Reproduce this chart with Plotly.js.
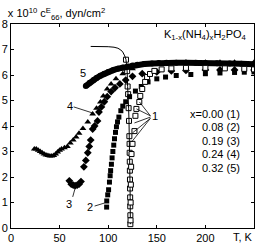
<!DOCTYPE html>
<html><head><meta charset="utf-8">
<script src="https://cdn.plot.ly/plotly-3.0.1.min.js"></script>
<style>html,body{margin:0;padding:0;background:#fff}#c{width:261px;height:246px}</style>
</head><body><div id="c"></div>
<script>
// x = 0.00 (1): ferroelectric-side solid line, low-T column, high-T branch
const s1LineT = [82, 90, 100, 106, 110, 113, 115, 117, 118.3];
const s1LineC = [7.12, 7.12, 7.11, 7.09, 7.05, 6.98, 6.9, 6.75, 6.6];
const s1LowT = [118.3, 119.5, 120, 120.5, 121, 121.4, 121.8, 122, 122.1, 122.2, 122.3, 122.4, 122.5, 122.6, 122.7, 122.8, 122.8];
const s1LowC = [6.6, 6.15, 5.55, 5.25, 4.7, 4.2, 3.6, 3.3, 2.95, 2.6, 2.25, 1.9, 1.55, 1.2, 0.85, 0.5, 0.15];
const s1HighT = [123.0, 123.1, 123.3, 123.6, 124, 125, 127, 128, 129, 132, 133, 135, 138, 140, 143, 147.5, 155, 165, 180, 200, 220, 240, 250];
const s1HighC = [0.3, 1.0, 1.7, 2.4, 2.9, 3.3, 3.8, 4.4, 4.67, 4.94, 5.18, 5.45, 5.73, 5.92, 6.04, 6.16, 6.22, 6.26, 6.28, 6.28, 6.26, 6.24, 6.22];
// x = 0.08 (2)
const s2T = [98.4, 98.5, 99.5, 100.4, 101.3, 102, 102.5, 103.3, 104, 104.8, 105.7, 106.5, 107.5, 108.5, 109.6, 111, 113, 115, 118, 122, 128, 134, 141, 150, 159, 170, 185, 200, 215, 230, 240, 250];
const s2C = [0.82, 1.06, 1.3, 1.5, 1.8, 2.05, 2.25, 2.5, 2.75, 3.0, 3.25, 3.5, 3.75, 3.97, 4.16, 4.35, 4.6, 4.78, 4.95, 5.15, 5.37, 5.55, 5.73, 5.85, 5.92, 5.98, 6.02, 6.05, 6.08, 6.1, 6.11, 6.12];
// x = 0.19 (3)
const s3T = [60, 62, 64, 66, 68, 70, 72, 75, 77, 79, 80.5, 82, 84, 86, 89, 90.5, 93, 96, 99, 103, 107, 112, 118, 125, 135, 150, 165, 180, 200, 215, 230, 250];
const s3C = [1.85, 1.72, 1.68, 1.66, 1.68, 1.72, 1.82, 2.4, 2.65, 2.95, 3.2, 3.45, 3.88, 4.0, 4.2, 4.55, 4.75, 4.95, 5.15, 5.35, 5.5, 5.65, 5.8, 5.95, 6.05, 6.12, 6.16, 6.18, 6.2, 6.2, 6.2, 6.2];
// x = 0.24 (4)
const s4T = [24, 26, 28, 30, 32, 34, 36, 38, 40, 42, 44, 46, 48, 50, 52, 55, 58, 61, 64, 67, 70, 74, 79, 84, 88, 92, 95, 99, 103, 108, 115, 125, 140, 160, 180, 200, 215, 230, 250];
const s4C = [3.1, 3.1, 3.05, 3.0, 2.95, 2.9, 2.86, 2.84, 2.82, 2.82, 2.84, 2.9, 2.98, 3.05, 3.1, 3.15, 3.2, 3.33, 3.45, 3.57, 3.72, 3.9, 4.16, 4.47, 4.7, 4.94, 5.18, 5.45, 5.65, 5.85, 6.05, 6.25, 6.4, 6.45, 6.5, 6.5, 6.5, 6.5, 6.5];
// x = 0.32 (5)
const s5T = [77, 81, 85, 88, 92, 96, 100, 105, 110, 115, 120, 125, 130, 137, 145, 152, 160, 170, 180, 190, 200, 212, 225, 237, 250];
const s5C = [5.57, 5.7, 5.8, 5.88, 5.97, 6.05, 6.12, 6.19, 6.25, 6.29, 6.33, 6.37, 6.4, 6.43, 6.45, 6.47, 6.48, 6.48, 6.48, 6.48, 6.47, 6.46, 6.45, 6.44, 6.42];

const xTicks = [0, 50, 100, 150, 200];
const legendLines = ['x=0.00 (1)', '0.08 (2)', '0.19 (3)', '0.24 (4)', '0.32 (5)'];
const legendY = [4.47, 3.96, 3.41, 2.9, 2.35];

const F = 'Liberation Sans, Arial, sans-serif';
const blk = '#000';
const traces = [
  {x: s5T, y: s5C, mode: 'lines+markers', line: {color: blk, width: 6}, marker: {symbol: 'circle', size: 6, color: blk}},
  {x: s4T, y: s4C, mode: 'markers', marker: {symbol: 'triangle-up', size: 6, color: blk}},
  {x: s3T, y: s3C, mode: 'markers', marker: {symbol: 'diamond', size: 6, color: blk}},
  {x: s2T, y: s2C, mode: 'markers', marker: {symbol: 'square', size: 5, color: blk}},
  {x: s1LineT, y: s1LineC, mode: 'lines', line: {color: blk, width: 1}},
  {x: s1LowT, y: s1LowC, mode: 'lines+markers', line: {color: blk, width: 1}, marker: {symbol: 'square-open', size: 5, color: blk, line: {width: 1}}},
  {x: s1HighT, y: s1HighC, mode: 'markers', marker: {symbol: 'square', size: 5, color: '#fff', line: {color: blk, width: 1}}}
];

const ann = [
  {x: 73.8, y: 6.08, text: '5'},
  {x: 60.5, y: 4.78, text: '4'},
  {x: 59.4, y: 0.94, text: '3'},
  {x: 81, y: 0.82, text: '2'},
  {x: 148.6, y: 4.39, text: '1'},
  {x: 199.8, y: 7.57, text: 'K<sub>1-x</sub>(NH<sub>4</sub>)<sub>x</sub>H<sub>2</sub>PO<sub>4</sub>'}
].map(a => Object.assign({xref: 'x', yref: 'y', showarrow: false, font: {family: F, size: 11, color: blk}}, a));
legendLines.forEach((t, i) => ann.push({xref: 'paper', x: 0.95, xanchor: 'right', yref: 'y', y: legendY[i], text: t, showarrow: false, font: {family: F, size: 11, color: blk}}));
ann.push({xref: 'x', x: 238.5, yref: 'paper', y: -0.044, yanchor: 'middle', text: 'T, K', showarrow: false, font: {family: F, size: 11, color: blk}});

const L = (x0, y0, x1, y1) => ({type: 'line', xref: 'x', yref: 'y', x0, y0, x1, y1, line: {color: blk, width: 0.8}});
const shapes = [
  L(64.5, 4.75, 84, 4.51),
  L(63.5, 1.22, 66.6, 1.65),
  L(86, 0.86, 96.3, 0.98),
  L(143.4, 4.4, 132.2, 4.94),
  L(143.4, 4.4, 129.1, 4.67),
  L(143.4, 4.35, 127, 4.12),
  L(143.4, 4.3, 125, 3.73),
  L(143.4, 4.3, 124, 3.37)
];

const ax = {showline: true, linecolor: blk, linewidth: 1, mirror: 'ticks', ticks: 'inside', ticklen: 3, tickcolor: blk,
  showgrid: false, zeroline: false, tickfont: {family: F, size: 11, color: blk}};
const layout = {
  width: 261, height: 246, margin: {l: 11, r: 7, t: 24, b: 18},
  paper_bgcolor: '#fff', plot_bgcolor: '#fff', showlegend: false,
  title: {text: 'x 10<sup>10</sup> c<sup>E</sup><sub>66</sub>, dyn/cm<sup>2</sup>', xref: 'container', x: 0.03, xanchor: 'left',
    yref: 'container', y: 0.945, yanchor: 'middle', font: {family: F, size: 11, color: blk}},
  xaxis: Object.assign({}, ax, {range: [0, 250], tickvals: xTicks}),
  yaxis: Object.assign({}, ax, {range: [0, 8], dtick: 1}),
  annotations: ann, shapes: shapes
};
Plotly.newPlot('c', traces, layout, {staticPlot: true, displayModeBar: false});
</script></body></html>
